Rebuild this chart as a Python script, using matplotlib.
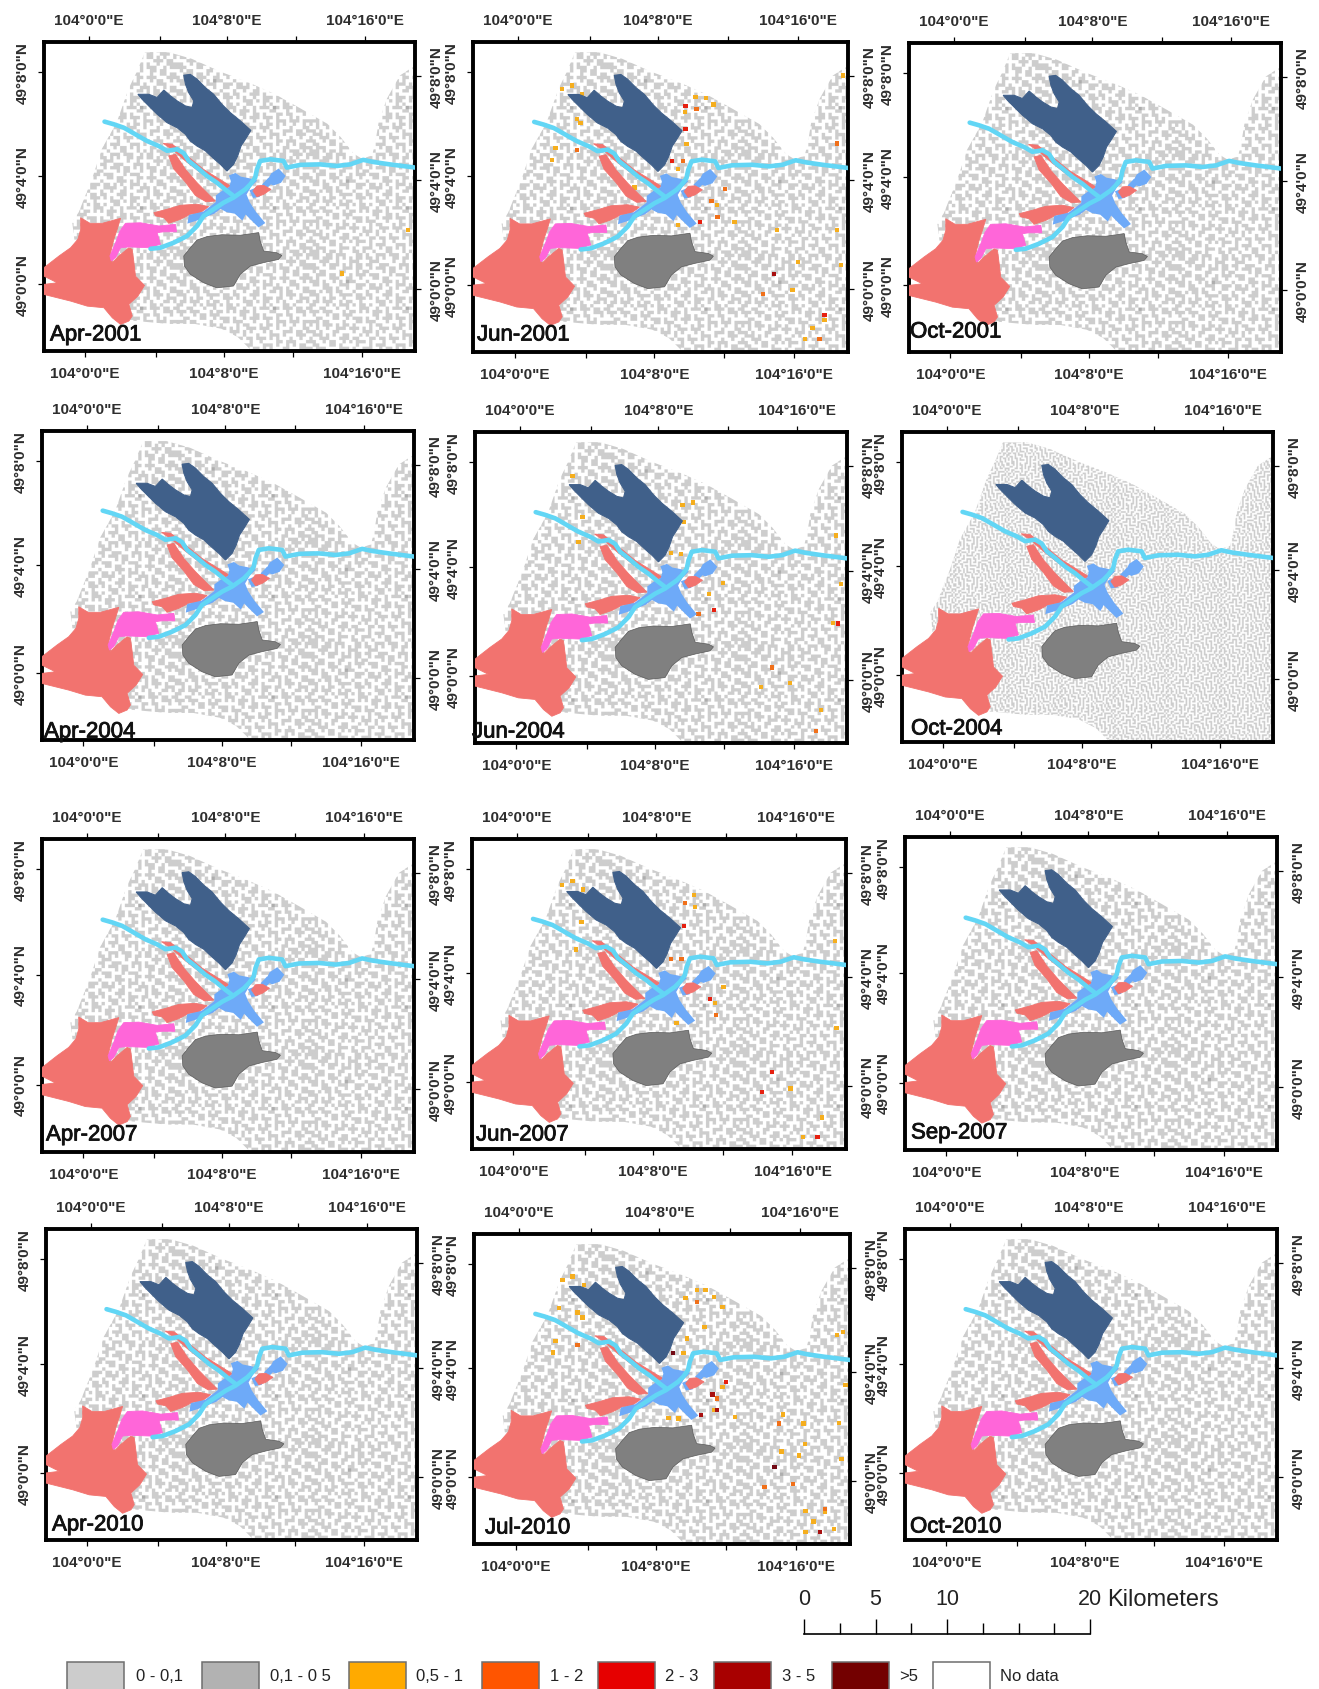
import numpy as np
import matplotlib
matplotlib.use('Agg')
import matplotlib.pyplot as plt
import matplotlib.patheffects as pe
from matplotlib.colors import ListedColormap
from matplotlib.patches import Polygon, Rectangle

plt.rcParams['font.family'] = ['Liberation Sans', 'DejaVu Sans']

W, H = 1319, 1690

# map outlines, arc minutes east of 104 deg / north of 49 deg
DARK_LAKE = [(5.50, 7.88), (5.88, 7.91), (6.27, 7.73), (6.75, 7.41), (7.23, 7.16), (7.71, 6.78), (8.19, 6.47),
             (8.77, 6.16), (9.38, 5.80), (9.06, 5.46), (8.81, 5.21), (8.62, 4.84), (8.38, 4.52), (8.00, 4.27),
             (7.62, 4.52), (7.23, 4.74), (6.75, 5.03), (6.27, 5.21), (5.88, 5.40), (5.60, 5.65), (5.12, 5.90),
             (4.54, 6.09), (3.96, 6.41), (3.48, 6.72), (3.10, 6.97), (2.85, 7.16), (3.48, 7.16), (3.96, 7.04),
             (4.35, 7.32), (4.73, 7.10), (5.12, 6.91), (5.60, 6.72), (5.98, 6.66), (6.08, 6.91), (5.79, 7.22),
             (5.60, 7.54)]
SALMON_BIG = [(-0.46, 2.51), (0.08, 2.30), (0.79, 2.30), (1.85, 2.49), (1.65, 2.07), (1.46, 1.70), (1.27, 1.19),
              (1.37, 0.82), (1.75, 1.07), (2.33, 1.38), (2.52, 1.32), (2.62, 0.82), (2.71, 0.31), (3.23, -0.04),
              (2.85, -0.44), (2.33, -0.75), (2.52, -1.19), (2.33, -1.38), (1.85, -1.51), (1.37, -1.26),
              (0.88, -0.88), (-0.08, -0.82), (-1.04, -0.63), (-2.58, -0.38), (-2.58, 0), (-1.81, 0.06),
              (-2.58, 0.31), (-2.58, 0.63), (-1.71, 1.07), (-1.04, 1.38), (-0.62, 1.70), (-0.46, 2.07)]
PINK_POND = [(2.13, 2.30), (3.00, 2.32), (4.06, 2.20), (5.02, 2.26), (5.08, 1.98), (4.35, 1.98), (3.96, 1.95),
             (4.15, 1.51), (3.48, 1.38), (2.33, 1.41), (1.85, 1.38), (1.56, 1.01), (1.31, 0.88), (1.23, 1.07),
             (1.56, 1.57), (1.81, 2.01)]
GREY_LAKE = [(5.50, 1.07), (5.88, 1.38), (6.27, 1.67), (6.85, 1.80), (7.71, 1.87), (8.77, 1.85), (9.83, 1.95),
             (9.92, 1.63), (10.12, 1.26), (10.88, 1.19), (11.17, 1.09), (10.98, 0.94), (10.12, 0.82), (9.35, 0.69),
             (8.77, 0.38), (8.38, -0.06), (7.42, -0.13), (6.65, 0.06), (5.88, 0.38), (5.54, 0.69)]
SALMON_ARM = [(3.77, 2.70), (4.54, 2.83), (5.31, 2.98), (6.27, 3.02), (6.94, 2.93), (6.46, 2.70), (5.88, 2.64),
              (5.31, 2.45), (4.63, 2.30), (4.35, 2.51), (3.87, 2.58)]
SALMON_STRIP = [(4.63, 4.84), (5.02, 4.90), (5.60, 4.33), (6.27, 3.83), (6.94, 3.39), (7.33, 3.14), (6.79, 3.11),
                (6.17, 3.35), (5.60, 3.85), (4.92, 4.35)]
SALMON_THIN = [(4.31, 5.31), (4.83, 5.28), (5.69, 4.84), (6.65, 4.33), (7.42, 4.02), (8.19, 3.71), (8.00, 3.64),
               (7.23, 3.89), (6.46, 4.21), (5.60, 4.65), (4.83, 5.09)]
SALMON_EAST = [(9.73, 3.71), (10.12, 3.73), (10.54, 3.58), (10.12, 3.39), (9.73, 3.30), (9.50, 3.52)]
BLUE_CENTRE = [(8.19, 4.08), (8.48, 4.15), (8.77, 4.02), (9.25, 3.96), (9.63, 3.89), (9.35, 3.71), (9.06, 3.39),
               (9.25, 3.08), (9.63, 2.70), (10.12, 2.32), (9.83, 2.20), (9.35, 2.51), (9.06, 2.70), (8.87, 2.47),
               (8.48, 2.70), (8.00, 2.76), (7.62, 2.89), (7.23, 2.70), (6.27, 2.45), (5.79, 2.35), (5.85, 2.58),
               (6.65, 2.70), (7.42, 3.08), (7.42, 3.33), (7.81, 3.52), (8.19, 3.64), (8.29, 3.89)]
BLUE_NE = [(10.60, 4.15), (10.98, 4.31), (11.31, 4.08), (11.08, 3.86), (10.69, 3.77), (10.37, 3.86)]
BLUE_SPOT = [(9.38, 3.52), (9.83, 3.64), (9.83, 3.33), (9.54, 3.30)]
BLUE_LINK = [(10.12, 3.77), (10.40, 3.96), (10.54, 3.83), (10.31, 3.68)]
RIVER_WEST = [(0.92, 6.13), (1.46, 6.03), (2.04, 5.90), (2.71, 5.65), (3.38, 5.40), (4.06, 5.21), (4.54, 5.03),
              (5.12, 5.09), (5.50, 4.94), (5.79, 4.65), (6.27, 4.40), (6.85, 4.08), (7.42, 3.83), (8.00, 3.52),
              (8.38, 3.33)]
RIVER_MAIN = [(3.58, 1.34), (4.15, 1.38), (4.92, 1.57), (5.69, 1.82), (6.27, 2.20), (6.65, 2.58), (7.23, 2.83),
              (7.81, 3.08), (8.38, 3.27), (9.06, 3.58), (9.35, 3.77), (9.63, 4.02), (9.73, 4.33), (9.92, 4.65),
              (10.50, 4.71), (11.27, 4.65), (11.46, 4.40), (12.23, 4.50), (13.38, 4.52), (14.35, 4.46),
              (15.12, 4.52), (15.88, 4.69), (16.46, 4.61), (17.42, 4.52), (18.87, 4.40)]
FOOTPRINT = [(2.40, -1.36), (4.60, -1.49), (6.14, -1.49), (7.67, -1.67), (8.63, -1.99), (9.58, -2.6), (18.78, -2.6),
             (18.78, 8.2), (18.0, 7.87), (17.25, 7.0), (16.77, 6.12), (16.58, 5.36), (16.39, 4.86), (15.81, 4.73),
             (15.33, 4.92), (14.57, 5.55), (13.80, 6.05), (12.27, 6.62), (10.73, 7.18), (9.20, 7.62), (7.67, 8.0),
             (5.95, 8.50), (4.60, 8.75), (3.26, 8.75), (2.78, 8.0), (2.31, 7.37), (1.63, 6.11), (0.77, 5.11),
             (0.20, 3.98), (-0.57, 2.72), (-0.95, 2.35), (-0.5, 0), (1.5, -1)]

# speckle of the 0-0,1 (#) and 0,1-0,5 (%) classes, one character per raster cell
SPECKLE = [
    "###..##.###...##.#..###.###..#.##..###.#",
    ".##.###.#.#.#.##.##.#.#..##.##.##.#.#..#",
    "...###..#...###...###....#..#....###.##.",
    "##..#.###.#.#.##.##..###...###.#..#..###",
    "###...##..###.##..#.###.##.#.#.###..#.##",
    ".#.##....##...#.##....#.##...#..##.##...",
    "..###.##.#..#.###.###...#.###...#..##.##",
    "#.#...###..##..#...##.##....##.###...###",
    "###.#..#.#.%##...#....###.#.#...#.##..#.",
    ".##.##...###..###.##.#.#..###.#...###...",
    "....###.#..#..##..####..#.#..###.#..#.##",
    "##.#.##.##...#...#..#..##...##.#.##...##",
    "###...#..####.##.##...###.#....#.###.#..",
    "..#.#.##..#...###.#.#..#..###.##..#..###",
    ".##.###..#.##..#....###.#.##..#.#...##.#",
    "##...#.#.###.#.##.#..##...#.#...##.#....",
    "#..##...#..#...###..#..#.###.%#.###.##.#",
    "###.###...#.##.#.#.###.#....##...#..###.",
    ".#...#.##.###......##..##.#...##.##...#.",
    "..##...##..#.###.#..#.###.###.#...#.#...",
    "###.##....#...##.###...#...#..###.###.##",
    "#.#.###.#.##.#....#.##...#.##.#.#..#..#.",
    "..#..#..###.###.#.#..###.###..#...#...##",
    "##.#...##....#..###.#.#...#.#...###.##.#",
    ".###.#.#..##...#.#..#...#...###.#...###.",
    "#..###...###.##...##.##.###.#.#...#..#..",
    "##..#.##..#.#.###.#...#..#....##.###...#",
    ".##...##.#....#...#.###...###.#..#.#.##.",
    "#.###....###.#..###..#.##.#.#...##...###",
    "###.#.##.#...##.#..#...##...#.#.#.###.#.",
]
SPECKLE_FINE = [
    "#.##.#.#..##.#.##.#..#.##.#.#..#",
    "#..#.#.##.#..#..#.##.#..#.#.##.#",
    ".##..#..#.#.##.##..#.##.#..#.#..",
    "#...##.##.#.#...#.##..#.##.##.##",
    "#.##....#...#.###.#..##..#....#.",
    "..#.###.#.##....#..##...#.####.#",
    "##.#...#..#..##.#.#...###.#...#.",
    "#..#.#.####.#.#...#.##....#.###.",
    ".##..#.....#..#.###..#.####.#..#",
    "#...##.###.##.#.....##.#....#.#.",
    "#.##...#.#..#...####...#.##.#.#.",
    "..#..###.#.##.##....##.#..#...##",
    "##.##....#....#.###..#.##.#.##..",
    "#...#.##.####.#.#.##.#..#.#..#.#",
    ".##.#..#.....##.#..#.##.#.##.#.#",
    "#.#..#.#.###....##.#..#...#..#..",
    "#.##.#.#...#.##..#.##.#.###.##.#",
    "..#..#.###.#..#.#...#.#.....#..#",
    "##.##.#...#.##.#.##.#.##.###.##.",
    "#...#.###.#....#..#.#..#.#...#.#",
    ".##.#...#.##.##.#.#.##.#.#.##..#",
    "#.#.##.#...#.#..#.#..#...#.#.##.",
    "#.#..#.###.#.#.##..#.####..#..#.",
    "..##.#.....#.#....#.#....#.##.#.",
]

# raster cells above 0,5 per image: class -> (lon, lat)
APR01_CELLS = {'0,5': [(14.63, 0.41), (18.48, 2.05)]}
JUN01_CELLS = {
    '0,5': [(3.09, 7.50), (3.67, 7.18), (2.52, 7.37), (3.38, 6.24), (3.57, 6.08), (2.13, 5.14), (1.94, 4.71),
            (10.15, 7.06), (10.73, 7.03), (9.54, 6.49), (9.63, 5.30), (11.17, 6.78), (11.36, 3.00), (12.38, 2.38),
            (9.15, 2.26), (14.82, 2.06), (16.02, 0.88), (15.69, -0.19), (18.48, 0.77), (16.84, -1.61),
            (17.52, -1.30), (16.42, -2.01), (6.65, 3.67), (9.15, 4.36), (18.23, 2.08), (18.57, 7.87)],
    '1': [(18.23, 5.32), (3.38, 5.07), (10.21, 6.62), (9.44, 4.65), (11.40, 2.57), (14.02, -0.33), (17.23, -2.01),
          (11.07, 3.16), (11.84, 3.60)],
    '2': [(9.57, 6.74), (9.57, 5.86), (8.80, 4.67), (10.40, 2.38), (17.52, -1.11)],
    '3': [(14.63, 0.42)]}
JUN04_CELLS = {
    '0,5': [(3.04, 7.48), (3.61, 5.95), (3.38, 5.01), (9.38, 6.39), (10.0, 6.49), (9.48, 5.76), (8.71, 4.61),
            (9.29, 4.57), (11.73, 3.48), (10.92, 3.06), (8.84, 3.25), (13.90, -0.42), (15.57, -0.27), (18.23, 5.26),
            (18.07, 1.97), (17.36, -1.27), (18.52, 3.44)],
    '1': [(10.30, 2.31), (17.07, -2.06), (14.54, 0.32)],
    '2': [(11.21, 2.46), (18.36, 1.96)]}
JUN07_CELLS = {
    '0,5': [(3.19, 7.55), (3.80, 7.23), (2.57, 7.40), (10.17, 7.04), (10.21, 6.58), (3.71, 6.01), (3.38, 4.98),
            (18.25, 5.30), (18.32, 2.02), (11.84, 3.56), (11.36, 2.97), (9.15, 2.22), (15.69, -0.24), (17.48, -1.33),
            (16.40, -2.05), (8.96, 3.25)],
    '1': [(8.82, 4.63), (9.44, 4.63), (11.40, 2.52), (9.63, 6.73)],
    '2': [(11.07, 3.12), (9.59, 5.85), (14.05, -0.37), (14.63, 0.39), (17.23, -2.05)]}
JUL10_CELLS = {
    '0,5': [(3.04, 7.53), (3.71, 7.22), (2.46, 7.41), (3.32, 6.18), (3.61, 5.99), (2.27, 6.34), (2.07, 5.11),
            (1.92, 4.68), (10.15, 7.03), (10.63, 7.03), (9.48, 6.72), (9.57, 5.21), (10.57, 5.65), (11.11, 6.76),
            (11.59, 6.40), (9.38, 4.65), (11.59, 3.39), (11.11, 2.51), (12.30, 2.26), (8.52, 2.22), (9.09, 2.20),
            (15.05, 2.35), (16.21, 2.01), (16.30, 1.25), (15.96, 0.81), (14.96, 0.96), (18.13, 5.34), (18.46, 5.46),
            (18.23, 2.04), (18.38, 0.69), (18.61, 3.45), (16.34, -1.26), (16.79, -1.67), (17.46, -1.32),
            (16.34, -2.05), (17.94, -1.95)],
    '1': [(3.32, 4.96), (10.15, 6.57), (14.81, 2.01), (14.0, -0.38), (15.63, -0.25), (17.46, -1.20), (11.30, 2.95)],
    '2': [(11.79, 3.58)],
    '3': [(11.02, 3.10), (11.30, 2.53), (10.38, 2.32), (17.17, -2.05)],
    '5': [(8.77, 4.65), (14.57, 0.37)]}

TITLES = ['Apr-2001', 'Jun-2001', 'Oct-2001', 'Apr-2004', 'Jun-2004', 'Oct-2004',
          'Apr-2007', 'Jun-2007', 'Sep-2007', 'Apr-2010', 'Jul-2010', 'Oct-2010']
PANEL_CELLS = [APR01_CELLS, JUN01_CELLS, {}, {}, JUN04_CELLS, {}, {}, JUN07_CELLS, {}, {}, JUL10_CELLS, {}]
LON_TICKS = [0, 4.1, 8, 12, 16]
LON_LABELS = ['104°0\'0"E', '', '104°8\'0"E', '', '104°16\'0"E']
LAT_TICKS = [0, 4.09, 8.01]
LAT_LABELS = ['49°0\'0"N', '49°4\'0"N', '49°8\'0"N']
LEGEND_LABELS = ['0 - 0,1', '0,1 - 0 5', '0,5 - 1', '1 - 2', '2 - 3', '3 - 5', '>5', 'No data']
LEGEND_COLORS = ['#cccccc', '#b2b2b2', '#ffaa00', '#ff5500', '#e60000', '#a80000', '#730000', '#ffffff']
SCALE_KM = [0, 5, 10, 20]

CELL_COLORS = {'0,5': '#f5ae1e', '1': '#f0701a', '2': '#e62010', '3': '#a81010', '5': '#730a14'}

# frame boxes in pixels: left, top, right, bottom
FRAMES = [(44, 43, 415, 352), (473, 43, 848, 353), (909, 44, 1281, 353),
          (42, 432, 414, 741), (475, 433, 847, 744), (902, 433, 1273, 743),
          (42, 840, 414, 1153), (472, 840, 846, 1150), (905, 838, 1277, 1151),
          (46, 1230, 417, 1541), (474, 1235, 850, 1545), (905, 1230, 1277, 1541)]
TITLE_POS = [(50, 336), (477, 336), (910, 333), (44, 733), (472, 733), (911, 730),
             (46, 1136), (476, 1136), (911, 1134), (52, 1526), (485, 1529), (910, 1528)]
LEGEND_X = [67, 202, 349, 482, 598, 714, 832, 933]
LEGEND_TX = [136, 270, 416, 550, 665, 782, 899, 1000]


def tile_image(rows, reps):
    code = {'.': 0, '#': 1, '%': 2}
    n = min(len(r) for r in rows)
    cell = np.array([[code[c] for c in r[:n]] for r in rows])
    img = np.tile(cell, reps)
    # 3 sub-pixels per cell so the smoothing only softens the edges
    return np.repeat(np.repeat(img, 3, axis=0), 3, axis=1)


def draw_map(ax, fine, cells):
    cmap = ListedColormap(['#ffffff', '#cdcdcd', '#aeaeae'])
    if fine:
        img = tile_image(SPECKLE_FINE, (8, 8))
        dx, dy = 0.096, 0.063
    else:
        img = tile_image(SPECKLE, (4, 3))
        dx, dy = 0.192, 0.126
    nrow, ncol = img.shape[0] / 3, img.shape[1] / 3
    im = ax.imshow(img, cmap=cmap, vmin=0, vmax=2, aspect='auto', interpolation='bilinear',
                   interpolation_stage='rgba', origin='upper', zorder=1,
                   extent=(-2.6, -2.6 + ncol * dx, -2.6, -2.6 + nrow * dy))
    im.set_clip_path(Polygon(FOOTPRINT, transform=ax.transData))

    for cls, pts in cells.items():
        lon = [p[0] for p in pts]
        lat = [p[1] for p in pts]
        ax.bar(lon, 0.16, width=0.25, bottom=np.array(lat) - 0.08, color=CELL_COLORS[cls], zorder=2)

    for poly in [SALMON_BIG, SALMON_ARM, SALMON_STRIP, SALMON_THIN]:
        ax.add_patch(Polygon(poly, fc='#f2736f', ec='#f2736f', lw=0.6, zorder=3))
    ax.add_patch(Polygon(PINK_POND, fc='#ff66d9', ec='#ff66d9', lw=0.6, zorder=3))
    ax.add_patch(Polygon(DARK_LAKE, fc='#40608a', ec='#40608a', lw=0.8, zorder=3))
    ax.add_patch(Polygon(GREY_LAKE, fc='#808080', ec='#5a5a5a', lw=0.5, zorder=3))
    for poly in [BLUE_CENTRE, BLUE_NE, BLUE_SPOT, BLUE_LINK]:
        ax.add_patch(Polygon(poly, fc='#6eaaf8', ec='#6eaaf8', lw=1.6, zorder=3.5))
    ax.add_patch(Polygon(SALMON_EAST, fc='#f2736f', ec='#f2736f', lw=0.6, zorder=3.7))
    for river in [RIVER_WEST, RIVER_MAIN]:
        ax.plot([p[0] for p in river], [p[1] for p in river], color='#62d6f5', lw=3.3,
                solid_joinstyle='round', solid_capstyle='round', zorder=4)


def style_axes(ax):
    ax.set_xlim(-2.58, 18.87)
    ax.set_ylim(-2.51, 9.13)
    for s in ax.spines.values():
        s.set_linewidth(2.8)
    font = dict(fontsize=11, fontweight='bold', color='#2e2e2e')
    ax.set_xticks([t - 0.2 for t in LON_TICKS], LON_LABELS, **font)
    ax.set_yticks(LAT_TICKS, LAT_LABELS, rotation=90, va='center', **font)
    ax.tick_params(length=4.5, width=0.9, pad=6)
    top = ax.secondary_xaxis('top')
    top.set_xticks(LON_TICKS, LON_LABELS, **font)
    right = ax.secondary_yaxis('right')
    right.set_yticks([t - 0.16 for t in LAT_TICKS], LAT_LABELS, rotation=90, va='center', **font)
    for sec in (top, right):
        sec.tick_params(length=4.5, width=0.9, pad=6)
        for s in sec.spines.values():
            s.set_visible(False)


def main():
    fig = plt.figure(figsize=(W / 100, H / 100), dpi=100)

    for i, (x0, y0, x1, y1) in enumerate(FRAMES):
        ax = fig.add_axes([x0 / W, 1 - y1 / H, (x1 - x0) / W, (y1 - y0) / H])
        draw_map(ax, TITLES[i] == 'Oct-2004', PANEL_CELLS[i])
        style_axes(ax)
        tx, ty = TITLE_POS[i]
        fig.text(tx / W, 1 - ty / H, TITLES[i], fontsize=16, color='#111111', va='center', zorder=5,
                 path_effects=[pe.withStroke(linewidth=0.6, foreground='#111111')])

    # scale bar
    sb = fig.add_axes([804 / W, 1 - 1635 / H, 286 / W, 0.5 / H])
    sb.set_xlim(0, 20)
    sb.set_ylim(0, 1)
    sb.patch.set_visible(False)
    for name in ('top', 'left', 'right'):
        sb.spines[name].set_visible(False)
    sb.spines['bottom'].set_linewidth(1.2)
    sb.yaxis.set_visible(False)
    sb.xaxis.tick_top()
    sb.set_xticks(SCALE_KM, [str(k) for k in SCALE_KM], fontsize=15.5, color='#222222')
    sb.set_xticks([2.5, 7.5, 12.5, 15, 17.5], minor=True)
    sb.tick_params(which='major', length=11, width=1, pad=6.5)
    sb.tick_params(which='minor', length=8, width=1, top=True, bottom=False)
    fig.text(1107 / W, 1 - 1600 / H, 'Kilometers', fontsize=17, color='#222222', va='center')

    # legend boxes, cut by the lower edge of the image
    leg = fig.add_axes([0, 0, 1, 1])
    leg.set_xlim(0, W)
    leg.set_ylim(H, 0)
    leg.axis('off')
    leg.patch.set_visible(False)
    for x, tx, lab, col in zip(LEGEND_X, LEGEND_TX, LEGEND_LABELS, LEGEND_COLORS):
        leg.add_patch(Rectangle((x, 1663), 57, 40, fc=col, ec='#6e6e6e', lw=1.1))
        leg.text(tx, 1677, lab, fontsize=12, color='#222222', va='center')

    fig.savefig('out.png', dpi=100)


if __name__ == '__main__':
    main()
